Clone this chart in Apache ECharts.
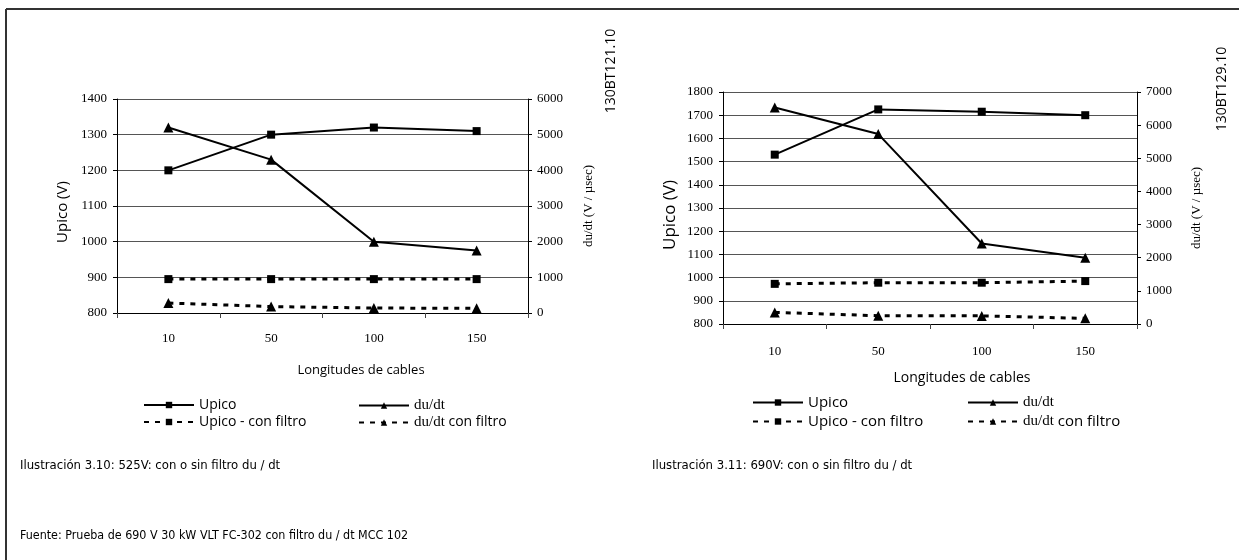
<!DOCTYPE html>
<html>
<head>
<meta charset="utf-8">
<script src="https://cdn.jsdelivr.net/npm/echarts@6/dist/echarts.min.js"></script>
<style>
html,body{margin:0;padding:0;background:#fff;}
#c{width:1239px;height:560px;}
</style>
</head>
<body>
<div id="c"></div>
<script>
// ---- data ----
const categories = ['10', '50', '100', '150'];
// 525 V
const upico525 = [1200, 1300, 1320, 1310];
const dudt525 = [5200, 4300, 2000, 1750];
const upicoFiltro525 = [895, 895, 895, 895];
const dudtFiltro525 = [280, 180, 140, 130];
// 690 V
const upico690 = [1530, 1725, 1715, 1700];
const dudt690 = [6530, 5730, 2430, 2000];
const upicoFiltro690 = [973, 978, 978, 985];
const dudtFiltro690 = [350, 250, 245, 170];

const xTitle = 'Longitudes de cables';
const yLeftTitle = 'Upico (V)';
const yRightTitle = 'du/dt (V / µsec)';
const captions = ['Ilustración 3.10: 525V: con o sin filtro du / dt', 'Ilustración 3.11: 690V: con o sin filtro du / dt'];
const source = 'Fuente: Prueba de 690 V 30 kW VLT FC-302 con filtro du / dt MCC 102';
const codes = ['130BT121.10', '130BT129.10'];

const SERIF = "'Liberation Serif','DejaVu Serif',serif";
const SANS = "'Open Sans','Noto Sans',sans-serif";
const COND = "'DejaVu Sans Condensed','Liberation Sans Narrow','DejaVu Sans',sans-serif";

const chart = echarts.init(document.getElementById('c'), null, {renderer: 'canvas'});

function xAx(gi, margin) {
  return {
    type: 'category', gridIndex: gi, data: categories, boundaryGap: true,
    axisLine: {lineStyle: {color: '#000', width: 1}},
    axisTick: {show: true, length: 5, lineStyle: {color: '#444'}},
    axisLabel: {margin: margin, color: '#000', fontFamily: SERIF, fontSize: 13}
  };
}
function yAx(gi, pos, min, max, interval, split) {
  return {
    type: 'value', gridIndex: gi, position: pos, min: min, max: max, interval: interval,
    axisLine: {show: true, lineStyle: {color: '#000', width: 1}},
    axisTick: {show: true, length: 4, lineStyle: {color: '#000'}},
    axisLabel: {margin: pos === 'left' ? 10 : 9, color: '#000', fontFamily: SERIF, fontSize: 13,
      formatter: function (v) { return String(v); }},
    splitLine: {show: split, lineStyle: {color: '#555', width: 1}}
  };
}
function ser(name, xi, yi, data, symbol, dashed) {
  return {
    name: name, type: 'line', xAxisIndex: xi, yAxisIndex: yi, data: data,
    symbol: symbol, symbolSize: symbol === 'rect' ? 8 : 10,
    itemStyle: {color: '#000'},
    lineStyle: dashed ? {color: '#000', width: 3, type: [5, 6]} : {color: '#000', width: 2},
    animation: false, z: dashed ? 3 : 4
  };
}
const display = {
  'Upico A': '{a|Upico}', 'du/dt A': '{s|du/dt}',
  'Upico F A': '{a|Upico - con filtro}', 'du/dt F A': '{s|du/dt}{a| con filtro}',
  'Upico B': '{b|Upico}', 'du/dt B': '{t|du/dt}',
  'Upico F B': '{b|Upico - con filtro}', 'du/dt F B': '{t|du/dt}{b| con filtro}'
};
function leg(name, left, top) {
  return {
    data: [name], left: left, top: top, padding: 0, itemWidth: 50, itemHeight: 8,
    formatter: function (n) { return display[n]; },
    textStyle: {color: '#000', rich: {
      a: {fontFamily: SANS, fontSize: 14, color: '#000'},
      s: {fontFamily: SERIF, fontSize: 15, color: '#000'},
      b: {fontFamily: SANS, fontSize: 15, color: '#000'},
      t: {fontFamily: SERIF, fontSize: 15, color: '#000'}
    }},
    selectedMode: false
  };
}
function txt(x, y, text, font, size, opts) {
  opts = opts || {};
  return {
    type: 'text', x: x, y: y, rotation: opts.rot || 0, silent: true,
    style: {text: text, fill: '#000', font: size + 'px ' + font,
      textAlign: opts.align || 'center', textVerticalAlign: 'middle'}
  };
}

const option = {
  backgroundColor: '#fff',
  animation: false,
  grid: [
    {left: 117, top: 99, width: 411, height: 214},
    {left: 723, top: 92, width: 414, height: 232}
  ],
  xAxis: [xAx(0, 19), xAx(1, 21)],
  yAxis: [
    yAx(0, 'left', 800, 1400, 100, true),
    yAx(0, 'right', 0, 6000, 1000, false),
    yAx(1, 'left', 800, 1800, 100, true),
    yAx(1, 'right', 0, 7000, 1000, false)
  ],
  legend: [
    leg('Upico A', 143, 398), leg('du/dt A', 358, 398),
    leg('Upico F A', 143, 415), leg('du/dt F A', 358, 415),
    leg('Upico B', 752, 395), leg('du/dt B', 967, 395),
    leg('Upico F B', 752, 414), leg('du/dt F B', 967, 414)
  ],
  series: [
    ser('Upico A', 0, 0, upico525, 'rect', false),
    ser('du/dt A', 0, 1, dudt525, 'triangle', false),
    ser('Upico F A', 0, 0, upicoFiltro525, 'rect', true),
    ser('du/dt F A', 0, 1, dudtFiltro525, 'triangle', true),
    ser('Upico B', 1, 2, upico690, 'rect', false),
    ser('du/dt B', 1, 3, dudt690, 'triangle', false),
    ser('Upico F B', 1, 2, upicoFiltro690, 'rect', true),
    ser('du/dt F B', 1, 3, dudtFiltro690, 'triangle', true)
  ],
  graphic: [
    {type: 'line', shape: {x1: 6, y1: 9, x2: 1239, y2: 9}, style: {stroke: '#333', lineWidth: 2}, silent: true},
    {type: 'line', shape: {x1: 6, y1: 9, x2: 6, y2: 560}, style: {stroke: '#333', lineWidth: 2}, silent: true},
    txt(361, 370, xTitle, SANS, 13),
    txt(962, 378, xTitle, SANS, 14),
    txt(63, 212, yLeftTitle, SANS, 15, {rot: Math.PI / 2}),
    txt(670, 215, yLeftTitle, SANS, 17, {rot: Math.PI / 2}),
    txt(589, 206, yRightTitle, SERIF, 13, {rot: Math.PI / 2}),
    txt(1197, 208, yRightTitle, SERIF, 13, {rot: Math.PI / 2}),
    txt(611, 71, codes[0], SANS, 14, {rot: Math.PI / 2}),
    txt(1222, 89, codes[1], SANS, 14, {rot: Math.PI / 2}),
    txt(20, 466, captions[0], COND, 13, {align: 'left'}),
    txt(652, 466, captions[1], COND, 13, {align: 'left'}),
    txt(20, 536, source, COND, 12.4, {align: 'left'})
  ]
};
chart.setOption(option);
</script>
</body>
</html>
